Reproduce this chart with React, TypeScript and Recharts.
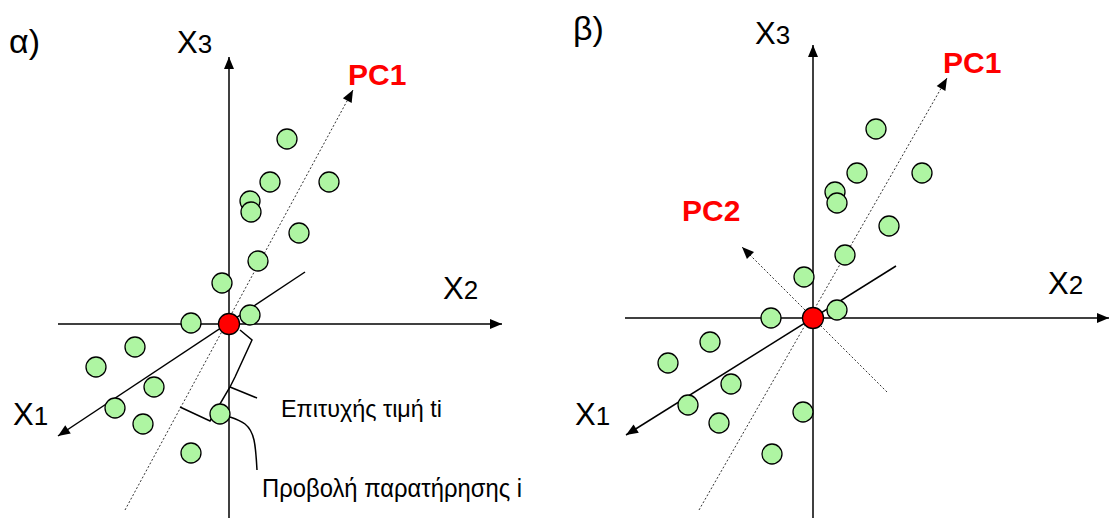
import React from 'react'
import { ComposedChart, XAxis, YAxis, Line, Scatter, ReferenceDot } from 'recharts'

type Pt = { x: number; y: number }

// Observations in panel α, centred on the mean (x → X2-ish, y → X3-ish)
const obsA: Pt[] = [
  { x: 5.8, y: 18.5 },
  { x: 4.1, y: 14.2 },
  { x: 10.0, y: 14.2 },
  { x: 2.1, y: 12.3 },
  { x: 2.2, y: 11.2 },
  { x: 7.0, y: 9.1 },
  { x: 2.9, y: 6.3 },
  { x: -0.7, y: 4.1 },
  { x: 2.1, y: 0.9 },
  { x: -3.8, y: 0.1 },
  { x: -9.4, y: -2.3 },
  { x: -13.3, y: -4.3 },
  { x: -7.5, y: -6.3 },
  { x: -11.4, y: -8.4 },
  { x: -8.6, y: -10.0 },
  { x: -0.9, y: -9.0 },
  { x: -3.8, y: -12.9 },
]

// Same cloud in panel β
const obsB: Pt[] = [
  { x: 6.3, y: 18.9 },
  { x: 4.4, y: 14.5 },
  { x: 10.9, y: 14.5 },
  { x: 2.2, y: 12.6 },
  { x: 2.4, y: 11.5 },
  { x: 7.6, y: 9.2 },
  { x: 3.2, y: 6.3 },
  { x: -0.9, y: 4.1 },
  { x: 2.4, y: 0.8 },
  { x: -4.2, y: 0 },
  { x: -10.3, y: -2.4 },
  { x: -14.5, y: -4.5 },
  { x: -8.2, y: -6.6 },
  { x: -12.5, y: -8.7 },
  { x: -9.4, y: -10.5 },
  { x: -1.0, y: -9.4 },
  { x: -4.1, y: -13.6 },
]

const mean: Pt[] = [{ x: 0, y: 0 }]

// Original variable axes: [tail, head]
const axesA: Pt[][] = [
  [{ x: 0, y: -19.4 }, { x: 0, y: 26.7 }], // X3
  [{ x: -17.1, y: 0 }, { x: 27.3, y: 0 }], // X2
  [{ x: 7.6, y: 5.2 }, { x: -17.1, y: -11.2 }], // X1
]
const axesB: Pt[][] = [
  [{ x: 0, y: -20 }, { x: 0, y: 27.3 }],
  [{ x: -18.8, y: 0 }, { x: 29.6, y: 0 }],
  [{ x: 8.3, y: 5.2 }, { x: -18.7, y: -11.7 }],
]

// Principal component directions
const pcA: Pt[][] = [[{ x: -10.4, y: -18.6 }, { x: 12.4, y: 23.4 }]]
const pcB: Pt[][] = [
  [{ x: -11.4, y: -19.2 }, { x: 13.4, y: 24.0 }], // PC1
  [{ x: 7.4, y: -7.4 }, { x: -7.1, y: 7.1 }], // PC2
]

// Brace marking the score t_i along PC1, and the two callout strokes
const brace: Pt[] = [
  { x: 1.1, y: -0.6 },
  { x: 2.3, y: -1.6 },
  { x: 0.6, y: -5.3 },
  { x: 0.1, y: -6.3 },
  { x: -1.9, y: -9.7 },
  { x: -4.9, y: -8.3 },
]
const scoreCallout: Pt[] = [
  { x: 0.1, y: -6.3 },
  { x: 2.8, y: -7.4 },
]
const projCallout: Pt[] = [
  { x: 0.1, y: -9.3 },
  { x: 1.6, y: -10.0 },
  { x: 2.5, y: -11.6 },
  { x: 2.8, y: -14.6 },
]

const FONT = '"Liberation Sans", Arial, sans-serif'
const GREEN = '#aef5a2'

const arrowTips = (segs: Pt[][]) =>
  segs.map(([a, b]) => ({ x: b.x, y: b.y, ang: Math.atan2(-(b.y - a.y), b.x - a.x) }))

const ArrowHead = (p: any) => {
  const { cx, cy, payload } = p
  const a = payload.ang
  const L = 12
  const W = 5
  const bx = cx - L * Math.cos(a)
  const by = cy - L * Math.sin(a)
  const nx = -Math.sin(a) * W
  const ny = Math.cos(a) * W
  return (
    <polygon
      points={`${cx},${cy} ${bx + nx},${by + ny} ${bx - nx},${by - ny}`}
      fill="#000"
    />
  )
}

const Dot = (fill: string, r: number) => (p: any) => (
  <circle cx={p.cx} cy={p.cy} r={r} fill={fill} stroke="#000" strokeWidth={1.3} />
)

const tag = (key: string, x: number, y: number, node: (cx: number, cy: number) => React.ReactNode) => (
  <ReferenceDot
    key={key}
    x={x}
    y={y}
    r={0}
    ifOverflow="visible"
    shape={(p: any) => <g>{node(p.cx, p.cy)}</g>}
  />
)

const axisLabel = (key: string, x: number, y: number, name: string, sub: string) =>
  tag(key, x, y, (cx, cy) => (
    <text x={cx} y={cy} fontFamily={FONT} fontSize={31} fill="#000">
      {name}
      <tspan fontSize={26}>{sub}</tspan>
    </text>
  ))

const pcLabel = (key: string, x: number, y: number, name: string) =>
  tag(key, x, y, (cx, cy) => (
    <text x={cx} y={cy} fontFamily={FONT} fontSize={30} fontWeight="bold" fill="#ff0000">
      {name}
    </text>
  ))

const panelLabel = (key: string, x: number, y: number, name: string) =>
  tag(key, x, y, (cx, cy) => (
    <text x={cx} y={cy} fontFamily={FONT} fontSize={34} fill="#000">
      {name}
    </text>
  ))

const seg = (key: string, data: Pt[], dotted = false, type: any = 'linear') => (
  <Line
    key={key}
    data={data}
    dataKey="y"
    type={type}
    stroke={dotted ? '#333' : '#000'}
    strokeWidth={dotted ? 1 : 1.5}
    strokeDasharray={dotted ? '2 2' : undefined}
    dot={false}
    activeDot={false}
    isAnimationActive={false}
  />
)

function Panel({
  left,
  xDomain,
  yDomain,
  axes,
  pcs,
  obs,
  children,
}: {
  left: number
  xDomain: [number, number]
  yDomain: [number, number]
  axes: Pt[][]
  pcs: Pt[][]
  obs: Pt[]
  children?: React.ReactNode
}) {
  return (
    <div style={{ position: 'absolute', left, top: 0 }}>
      <ComposedChart width={555} height={518} margin={{ top: 0, right: 0, bottom: 0, left: 0 }}>
        <XAxis type="number" dataKey="x" domain={xDomain} allowDataOverflow hide />
        <YAxis type="number" dataKey="y" domain={yDomain} allowDataOverflow hide />
        {axes.map((s, i) => seg(`ax${i}`, s))}
        {pcs.map((s, i) => seg(`pc${i}`, s, true))}
        <Scatter data={arrowTips([...axes, ...pcs])} shape={ArrowHead} isAnimationActive={false} />
        <Scatter data={obs} shape={Dot(GREEN, 10)} isAnimationActive={false} />
        <Scatter data={mean} shape={Dot('#ff0000', 10.5)} isAnimationActive={false} />
        {children}
      </ComposedChart>
    </div>
  )
}

export default function App() {
  return (
    <div
      style={{
        position: 'absolute',
        left: 0,
        top: 0,
        width: 1110,
        height: 518,
        background: '#fff',
        overflow: 'hidden',
      }}
    >
      <Panel left={0} xDomain={[-22.9, 32.6]} yDomain={[-19.4, 32.4]} axes={axesA} pcs={pcA} obs={obsA}>
        {seg('brace', brace)}
        {seg('score', scoreCallout)}
        {seg('proj', projCallout, false, 'natural')}
        {panelLabel('la', -22.0, 27.1, 'α)')}
        {axisLabel('x3a', -5.2, 27.1, 'X', '3')}
        {axisLabel('x2a', 21.4, 2.5, 'X', '2')}
        {axisLabel('x1a', -21.6, -10.1, 'X', '1')}
        {pcLabel('pc1a', 11.9, 23.9, 'PC1')}
        {tag('score', 5.2, -9.3, (cx, cy) => (
          <text x={cx} y={cy} fontFamily={FONT} fontSize={24} textLength={161} lengthAdjust="spacingAndGlyphs">
            Επιτυχής τιμή ti
          </text>
        ))}
        {tag('proj', 3.3, -17.3, (cx, cy) => (
          <text x={cx} y={cy} fontFamily={FONT} fontSize={26} textLength={260} lengthAdjust="spacingAndGlyphs">
            Προβολή παρατήρησης i
          </text>
        ))}
      </Panel>
      <Panel left={555} xDomain={[-25.8, 29.7]} yDomain={[-20, 31.8]} axes={axesB} pcs={pcB} obs={obsB}>
        {panelLabel('lb', -24.0, 27.8, 'β)')}
        {axisLabel('x3b', -5.8, 27.4, 'X', '3')}
        {axisLabel('x2b', 23.5, 2.4, 'X', '2')}
        {axisLabel('x1b', -23.8, -10.7, 'X', '1')}
        {pcLabel('pc1b', 13.0, 24.5, 'PC1')}
        {pcLabel('pc2b', -13.1, 9.7, 'PC2')}
      </Panel>
    </div>
  )
}
